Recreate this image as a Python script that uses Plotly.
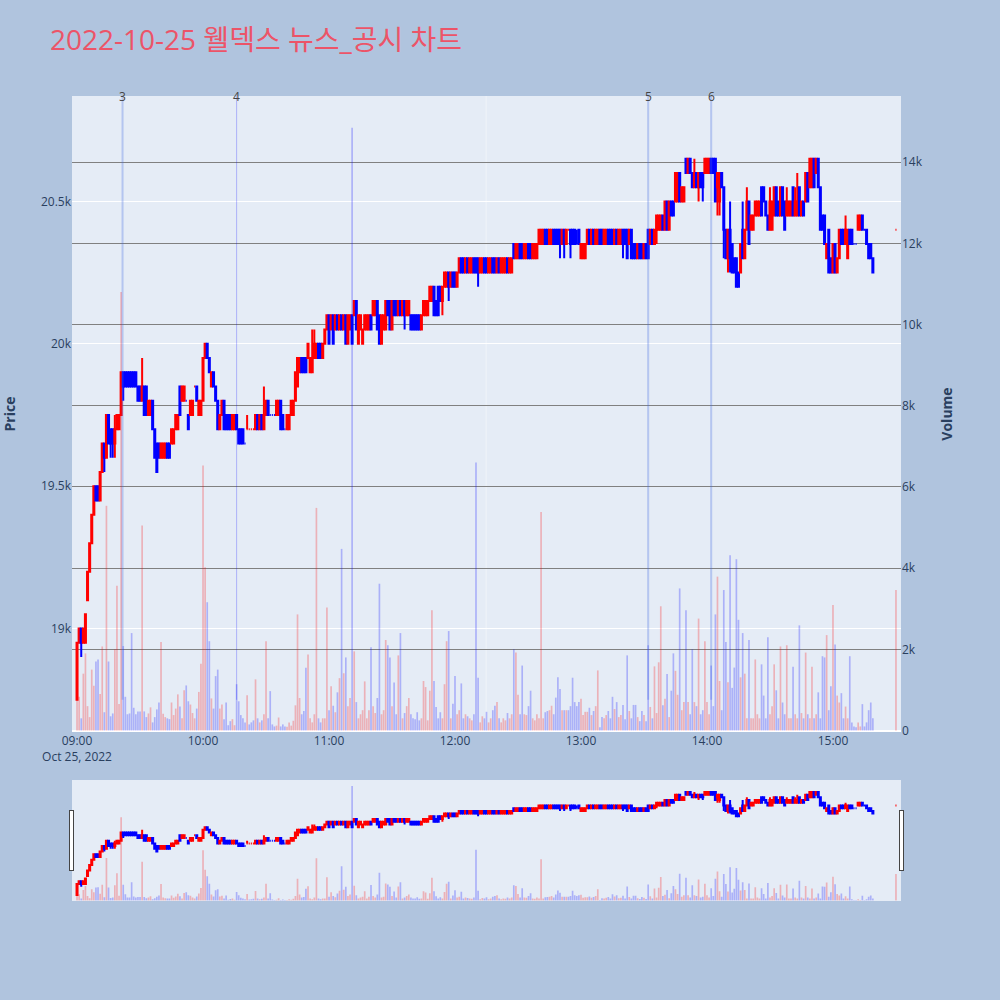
import plotly.graph_objects as go
from plotly.subplots import make_subplots
import pandas as pd

# ---------------- data (1-minute candles, 09:00-15:19 plus 15:30 close) ----------------
opens = [
    18750, 18950, 19000, 18950, 18950, 19100, 19200, 19300, 19400, 19500,
    19500, 19450, 19550, 19650, 19600, 19750, 19700, 19700, 19650, 19700,
    19700, 19750, 19900, 19900, 19900, 19900, 19900, 19900, 19900, 19850,
    19850, 19800, 19850, 19850, 19750, 19750, 19800, 19700, 19650, 19650,
    19600, 19600, 19600, 19650, 19650, 19650, 19650, 19700, 19700, 19850,
    19800, 19800, 19800, 19750, 19750, 19750, 19850, 19850, 19750, 19750,
    19800, 19950, 20000, 19950, 19850, 19900, 19850, 19800, 19700, 19750,
    19800, 19750, 19750, 19750, 19700, 19700, 19750, 19700, 19700, 19700,
    19650, 19700, 19700, 19700, 19700, 19700, 19750, 19700, 19750, 19700,
    19750, 19800, 19750, 19750, 19750, 19750, 19750, 19800, 19750, 19700,
    19700, 19700, 19750, 19750, 19800, 19850, 19900, 19950, 19950, 19950,
    19950, 19900, 19900, 19950, 19950, 20000, 20000, 19950, 20000, 20050,
    20100, 20050, 20100, 20050, 20100, 20050, 20100, 20050, 20100, 20000,
    20050, 20100, 20100, 20150, 20000, 20050, 20000, 20050, 20050, 20050,
    20100, 20100, 20100, 20150, 20100, 20000, 20050, 20050, 20150, 20150,
    20050, 20150, 20150, 20100, 20150, 20100, 20150, 20100, 20100, 20100,
    20100, 20100, 20100, 20100, 20050, 20100, 20100, 20100, 20150, 20150,
    20200, 20150, 20200, 20200, 20150, 20200, 20200, 20250, 20200, 20250,
    20250, 20200, 20250, 20300, 20300, 20250, 20300, 20250, 20250, 20300,
    20300, 20300, 20250, 20250, 20300, 20300, 20250, 20250, 20300, 20300,
    20250, 20300, 20250, 20250, 20250, 20300, 20250, 20250, 20350, 20300,
    20300, 20350, 20350, 20300, 20300, 20350, 20350, 20300, 20300, 20300,
    20350, 20350, 20350, 20400, 20400, 20350, 20350, 20400, 20400, 20400,
    20400, 20350, 20400, 20350, 20400, 20400, 20400, 20400, 20350, 20400,
    20300, 20300, 20300, 20350, 20400, 20350, 20400, 20350, 20350, 20400,
    20400, 20350, 20350, 20400, 20400, 20400, 20350, 20400, 20350, 20350,
    20400, 20400, 20400, 20350, 20400, 20350, 20350, 20300, 20350, 20350,
    20300, 20350, 20400, 20350, 20400, 20350, 20400, 20400, 20400, 20450,
    20400, 20500, 20400, 20500, 20500, 20500, 20500, 20600, 20500, 20500,
    20650, 20600, 20650, 20600, 20550, 20600, 20550, 20600, 20600, 20600,
    20600, 20600, 20650, 20650, 20650, 20550, 20500, 20600, 20550, 20400,
    20300, 20400, 20350, 20300, 20300, 20250, 20250, 20400, 20300, 20400,
    20500, 20400, 20400, 20450, 20450, 20450, 20550, 20550, 20500, 20450,
    20400, 20400, 20450, 20550, 20500, 20450, 20550, 20500, 20450, 20450,
    20450, 20550, 20450, 20450, 20550, 20450, 20500, 20500, 20600, 20550,
    20550, 20650, 20600, 20650, 20550, 20450, 20450, 20300, 20400, 20300,
    20250, 20350, 20250, 20300, 20400, 20400, 20350, 20300, 20400, 20400,
    20350, 20350, 20400, 20400, 20450, 20400, 20400, 20350, 20350, 20300,
    20400,
]
highs = [
    18950, 19000, 19000, 19000, 19050, 19200, 19300, 19400, 19500, 19500,
    19500, 19550, 19650, 19650, 19750, 19750, 19700, 19700, 19750, 19750,
    19750, 19900, 19900, 19900, 19900, 19900, 19900, 19900, 19900, 19850,
    19850, 19950, 19850, 19850, 19800, 19800, 19800, 19700, 19650, 19650,
    19650, 19650, 19650, 19650, 19650, 19700, 19700, 19750, 19750, 19850,
    19850, 19850, 19800, 19750, 19800, 19800, 19850, 19850, 19800, 19800,
    19950, 20000, 20000, 19950, 19900, 19900, 19850, 19800, 19750, 19800,
    19800, 19750, 19750, 19750, 19750, 19750, 19750, 19700, 19700, 19700,
    19650, 19750, 19700, 19700, 19700, 19750, 19750, 19750, 19750, 19850,
    19800, 19800, 19750, 19750, 19750, 19800, 19800, 19800, 19750, 19700,
    19750, 19750, 19800, 19800, 19900, 19950, 19950, 19950, 19950, 19950,
    20000, 19950, 20050, 20050, 20000, 20000, 20000, 20000, 20050, 20100,
    20100, 20100, 20100, 20100, 20100, 20100, 20100, 20100, 20100, 20100,
    20100, 20100, 20150, 20150, 20100, 20100, 20050, 20100, 20100, 20100,
    20100, 20150, 20150, 20150, 20100, 20100, 20100, 20150, 20150, 20150,
    20150, 20150, 20150, 20150, 20150, 20150, 20150, 20150, 20150, 20100,
    20100, 20100, 20100, 20100, 20100, 20150, 20150, 20150, 20200, 20200,
    20200, 20150, 20200, 20200, 20200, 20250, 20250, 20250, 20250, 20250,
    20250, 20250, 20300, 20300, 20300, 20300, 20300, 20300, 20300, 20300,
    20300, 20300, 20300, 20300, 20300, 20300, 20300, 20300, 20300, 20300,
    20300, 20300, 20300, 20300, 20300, 20300, 20300, 20300, 20350, 20350,
    20350, 20350, 20350, 20350, 20350, 20350, 20350, 20350, 20350, 20350,
    20400, 20400, 20400, 20400, 20400, 20400, 20400, 20400, 20400, 20400,
    20400, 20400, 20400, 20400, 20400, 20400, 20400, 20400, 20400, 20400,
    20350, 20350, 20350, 20400, 20400, 20400, 20400, 20400, 20400, 20400,
    20400, 20400, 20400, 20400, 20400, 20400, 20400, 20400, 20400, 20400,
    20400, 20400, 20400, 20400, 20400, 20350, 20350, 20350, 20350, 20350,
    20350, 20350, 20400, 20400, 20400, 20400, 20450, 20450, 20450, 20450,
    20500, 20500, 20500, 20500, 20500, 20600, 20600, 20600, 20550, 20550,
    20650, 20650, 20650, 20600, 20650, 20600, 20600, 20600, 20600, 20650,
    20650, 20650, 20650, 20650, 20650, 20600, 20600, 20600, 20550, 20400,
    20400, 20500, 20350, 20300, 20300, 20250, 20350, 20500, 20400, 20550,
    20500, 20450, 20450, 20500, 20500, 20500, 20550, 20550, 20500, 20450,
    20550, 20500, 20550, 20550, 20500, 20550, 20550, 20500, 20550, 20500,
    20500, 20550, 20550, 20600, 20550, 20500, 20500, 20600, 20600, 20650,
    20650, 20650, 20650, 20650, 20550, 20450, 20450, 20350, 20400, 20300,
    20350, 20350, 20300, 20400, 20400, 20400, 20450, 20400, 20400, 20400,
    20350, 20350, 20450, 20450, 20450, 20400, 20400, 20350, 20350, 20300,
    20400,
]
lows = [
    18750, 18950, 18900, 18950, 18950, 19100, 19200, 19300, 19400, 19450,
    19450, 19450, 19550, 19550, 19600, 19650, 19600, 19600, 19600, 19700,
    19700, 19750, 19800, 19850, 19850, 19850, 19850, 19850, 19850, 19800,
    19800, 19800, 19750, 19750, 19750, 19750, 19700, 19600, 19550, 19600,
    19600, 19600, 19600, 19600, 19600, 19650, 19650, 19700, 19700, 19750,
    19800, 19800, 19800, 19700, 19750, 19750, 19850, 19800, 19750, 19750,
    19800, 19950, 19950, 19900, 19850, 19850, 19800, 19700, 19700, 19750,
    19700, 19700, 19700, 19700, 19700, 19700, 19700, 19650, 19650, 19650,
    19650, 19700, 19700, 19700, 19700, 19700, 19700, 19700, 19700, 19700,
    19750, 19750, 19750, 19750, 19750, 19750, 19750, 19700, 19700, 19700,
    19700, 19700, 19750, 19750, 19800, 19850, 19900, 19900, 19900, 19900,
    19950, 19900, 19900, 19950, 19950, 19950, 19950, 19950, 20000, 20050,
    20000, 20050, 20000, 20050, 20050, 20050, 20050, 20050, 20000, 20000,
    20050, 20000, 20100, 20050, 20000, 20050, 20000, 20050, 20050, 20050,
    20050, 20100, 20100, 20050, 20000, 20000, 20050, 20050, 20100, 20050,
    20050, 20100, 20100, 20100, 20100, 20100, 20050, 20100, 20100, 20050,
    20050, 20050, 20050, 20050, 20050, 20100, 20100, 20100, 20150, 20150,
    20100, 20100, 20100, 20150, 20100, 20200, 20200, 20150, 20200, 20200,
    20200, 20200, 20250, 20250, 20250, 20250, 20250, 20250, 20250, 20250,
    20250, 20200, 20250, 20250, 20250, 20250, 20250, 20250, 20250, 20250,
    20250, 20250, 20250, 20250, 20250, 20250, 20250, 20250, 20300, 20300,
    20300, 20300, 20300, 20300, 20300, 20300, 20300, 20300, 20300, 20300,
    20350, 20350, 20350, 20350, 20350, 20350, 20350, 20350, 20350, 20350,
    20300, 20350, 20300, 20350, 20400, 20300, 20350, 20350, 20350, 20350,
    20300, 20300, 20300, 20350, 20350, 20350, 20350, 20350, 20350, 20350,
    20350, 20350, 20350, 20350, 20350, 20350, 20350, 20350, 20350, 20350,
    20300, 20350, 20300, 20350, 20300, 20300, 20300, 20300, 20300, 20300,
    20300, 20300, 20300, 20350, 20350, 20350, 20350, 20400, 20400, 20400,
    20400, 20400, 20400, 20450, 20450, 20500, 20500, 20500, 20500, 20500,
    20600, 20600, 20600, 20550, 20550, 20550, 20500, 20550, 20500, 20600,
    20600, 20600, 20600, 20600, 20500, 20450, 20450, 20550, 20300, 20300,
    20250, 20250, 20250, 20250, 20200, 20200, 20250, 20300, 20300, 20400,
    20350, 20400, 20400, 20450, 20450, 20450, 20450, 20500, 20450, 20400,
    20400, 20400, 20450, 20450, 20450, 20450, 20450, 20400, 20450, 20450,
    20450, 20450, 20450, 20450, 20450, 20450, 20450, 20500, 20500, 20550,
    20550, 20550, 20600, 20550, 20400, 20400, 20350, 20300, 20250, 20250,
    20250, 20250, 20250, 20300, 20350, 20350, 20350, 20300, 20350, 20350,
    20350, 20350, 20400, 20400, 20400, 20400, 20350, 20300, 20300, 20250,
    20400,
]
closes = [
    18950, 19000, 18950, 19000, 19050, 19200, 19300, 19400, 19500, 19450,
    19450, 19550, 19650, 19600, 19750, 19650, 19650, 19650, 19700, 19750,
    19750, 19900, 19850, 19850, 19850, 19850, 19850, 19850, 19850, 19800,
    19800, 19850, 19750, 19750, 19800, 19800, 19700, 19600, 19550, 19600,
    19650, 19650, 19650, 19600, 19600, 19700, 19700, 19750, 19750, 19750,
    19850, 19850, 19800, 19700, 19800, 19800, 19850, 19800, 19800, 19800,
    19950, 20000, 19950, 19900, 19900, 19850, 19800, 19700, 19750, 19800,
    19700, 19700, 19700, 19700, 19750, 19750, 19700, 19650, 19650, 19650,
    19650, 19700, 19700, 19700, 19700, 19750, 19700, 19750, 19700, 19750,
    19800, 19750, 19750, 19750, 19750, 19800, 19800, 19700, 19700, 19700,
    19750, 19750, 19800, 19800, 19900, 19950, 19950, 19900, 19900, 19900,
    20000, 19950, 19950, 20000, 20000, 19950, 19950, 20000, 20050, 20100,
    20000, 20100, 20000, 20100, 20050, 20100, 20050, 20100, 20000, 20100,
    20100, 20000, 20150, 20050, 20100, 20100, 20050, 20100, 20100, 20100,
    20050, 20150, 20150, 20050, 20000, 20100, 20100, 20150, 20100, 20050,
    20150, 20100, 20100, 20150, 20100, 20150, 20100, 20150, 20150, 20050,
    20050, 20050, 20050, 20050, 20100, 20150, 20150, 20150, 20200, 20200,
    20100, 20100, 20100, 20150, 20200, 20250, 20250, 20200, 20250, 20200,
    20200, 20250, 20300, 20250, 20250, 20300, 20250, 20300, 20300, 20250,
    20250, 20250, 20300, 20300, 20250, 20250, 20300, 20300, 20250, 20250,
    20300, 20250, 20300, 20300, 20300, 20250, 20300, 20300, 20300, 20350,
    20350, 20300, 20300, 20350, 20350, 20300, 20300, 20350, 20350, 20350,
    20400, 20400, 20400, 20350, 20350, 20400, 20400, 20350, 20350, 20350,
    20350, 20400, 20350, 20400, 20400, 20350, 20350, 20350, 20350, 20350,
    20350, 20350, 20350, 20400, 20350, 20400, 20350, 20400, 20400, 20350,
    20350, 20400, 20400, 20350, 20350, 20350, 20400, 20350, 20400, 20400,
    20350, 20350, 20300, 20400, 20300, 20300, 20300, 20350, 20300, 20300,
    20350, 20300, 20300, 20400, 20350, 20400, 20450, 20450, 20450, 20400,
    20500, 20400, 20500, 20450, 20450, 20600, 20600, 20500, 20550, 20550,
    20600, 20650, 20600, 20550, 20600, 20550, 20600, 20550, 20550, 20650,
    20650, 20650, 20600, 20600, 20500, 20600, 20600, 20550, 20400, 20300,
    20400, 20300, 20250, 20250, 20200, 20200, 20350, 20300, 20400, 20500,
    20350, 20450, 20450, 20500, 20500, 20500, 20450, 20500, 20450, 20400,
    20500, 20500, 20550, 20450, 20450, 20550, 20450, 20400, 20500, 20500,
    20500, 20450, 20500, 20500, 20450, 20500, 20450, 20600, 20500, 20650,
    20650, 20550, 20650, 20550, 20400, 20400, 20350, 20350, 20250, 20250,
    20350, 20250, 20300, 20400, 20350, 20350, 20400, 20400, 20350, 20350,
    20350, 20350, 20450, 20450, 20400, 20400, 20350, 20300, 20300, 20250,
    20400,
]
volumes = [
    800, 830, 300, 1400, 1900, 600, 330, 1500, 1100, 1700,
    1750, 900, 2070, 450, 5535, 1700, 350, 420, 2000, 3565,
    650, 10800, 2080, 830, 400, 420, 2400, 560, 400, 470,
    470, 5050, 470, 330, 420, 570, 200, 330, 520, 690,
    2180, 410, 330, 300, 280, 690, 380, 540, 890, 590,
    300, 990, 1110, 720, 640, 430, 300, 540, 950, 1645,
    6525, 4020, 3160, 2200, 790, 540, 1340, 1500, 540, 640,
    280, 690, 130, 230, 280, 130, 1140, 720, 380, 300,
    200, 870, 150, 200, 250, 1260, 300, 200, 250, 400,
    2200, 300, 970, 150, 100, 120, 320, 100, 150, 100,
    90, 200, 120, 240, 620, 2860, 800, 400, 480, 1545,
    1870, 300, 200, 400, 5484, 300, 200, 300, 300, 3030,
    500, 1090, 610, 450, 940, 1290, 4474, 1410, 1800, 600,
    800, 14850, 1950, 700, 300, 400, 500, 1210, 300, 500,
    2050, 600, 430, 800, 3616, 400, 500, 2230, 2100, 1800,
    600, 1180, 400, 1850, 2400, 300, 430, 600, 800, 400,
    300, 280, 450, 250, 300, 1220, 1070, 250, 980, 2960,
    1220, 580, 300, 450, 300, 1140, 2200, 2450, 300, 660,
    1340, 400, 500, 1160, 300, 400, 350, 300, 250, 400,
    6600, 1300, 200, 350, 300, 460, 200, 300, 500, 610,
    700, 300, 200, 300, 250, 430, 300, 400, 2000, 1920,
    880, 400, 1600, 400, 380, 600, 980, 300, 250, 400,
    300, 5380, 300, 450, 480, 500, 610, 400, 810, 1310,
    1020, 500, 500, 500, 500, 600, 1300, 700, 600, 700,
    780, 380, 460, 460, 560, 380, 480, 600, 1480, 80,
    330, 300, 380, 480, 300, 830, 530, 700, 330, 380,
    630, 280, 1850, 480, 300, 630, 630, 330, 230, 480,
    380, 230, 2100, 580, 300, 1580, 430, 1680, 3060, 620,
    780, 1390, 330, 980, 1900, 1470, 880, 3500, 500, 700,
    2960, 700, 400, 2000, 700, 600, 2757, 400, 500, 2200,
    700, 400, 1600, 600, 2860, 3790, 1220, 500, 3460, 2180,
    1190, 4320, 1050, 1550, 4220, 2727, 1310, 2400, 1400, 300,
    2230, 300, 300, 1750, 400, 300, 1630, 860, 300, 2300,
    400, 600, 1630, 990, 300, 2070, 690, 400, 2100, 300,
    300, 1570, 400, 300, 2590, 430, 300, 1920, 400, 300,
    1570, 300, 400, 940, 300, 1830, 1800, 2350, 500, 1090,
    3090, 2120, 860, 690, 920, 300, 590, 300, 1830, 200,
    100, 80, 200, 100, 650, 100, 200, 500, 690, 300,
    3460,
]
times = list(pd.date_range("2022-10-25 09:00", periods=380, freq="min")) + [pd.Timestamp("2022-10-25 15:30")]

news_labels = ["3", "4", "5", "6"]
news_times = ["2022-10-25 09:21:40", "2022-10-25 10:16:00", "2022-10-25 13:32:00", "2022-10-25 14:02:00"]
news_colors = ["rgba(65,105,225,0.3)", "rgba(0,0,255,0.25)", "rgba(65,105,225,0.3)", "rgba(65,105,225,0.3)"]
news_widths = [2, 1, 2, 2]
faint_time = "2022-10-25 12:14:50"

n = len(times)
for name, arr in [("opens", opens), ("highs", highs), ("lows", lows), ("closes", closes), ("volumes", volumes)]:
    assert len(arr) == n, f"{name} has {len(arr)} entries, expected {n}"

# volume colours follow the candle direction
vol_colors = []
prev_c = None
for o, c in zip(opens, closes):
    up = c > o or (c == o and prev_c is not None and c > prev_c)
    vol_colors.append("rgba(255,0,0,0.25)" if up else "rgba(0,0,255,0.25)")
    prev_c = c

fig = make_subplots(specs=[[{"secondary_y": True}]])
fig.add_trace(go.Candlestick(
    x=times, open=opens, high=highs, low=lows, close=closes,
    increasing=dict(line=dict(color="red"), fillcolor="red"),
    decreasing=dict(line=dict(color="blue"), fillcolor="blue"),
    name="Price", showlegend=False,
), secondary_y=False)
fig.add_trace(go.Bar(
    x=times, y=volumes, marker=dict(color=vol_colors, line=dict(width=0)),
    name="Volume", showlegend=False,
), secondary_y=True)

y_lo, y_hi = 18637, 20870
fig.add_shape(type="line", xref="x", yref="paper", x0=faint_time, x1=faint_time, y0=0, y1=1,
              line=dict(color="rgba(255,255,255,0.45)", width=1), layer="below")
for t, lab, col, w in zip(news_times, news_labels, news_colors, news_widths):
    fig.add_shape(type="line", xref="x", yref="y", x0=t, x1=t, y0=min(lows), y1=y_hi,
                  line=dict(color=col, width=w), layer="above")
    fig.add_annotation(x=t, xref="x", y=1, yref="paper", text=lab, showarrow=False,
                       yanchor="middle", font=dict(size=12, color="#444"))

x_range = ["2022-10-25 08:57:36", "2022-10-25 15:32:24"]
fig.update_layout(
    width=1000, height=1000,
    paper_bgcolor="#B0C4DE",
    plot_bgcolor="#E5ECF6",
    margin=dict(l=72, r=99, t=96, b=100),
    title=dict(text="2022-10-25 웰덱스 뉴스_공시 차트", x=0.05, y=0.96, yanchor="middle",
               font=dict(size=28, color="#EC5468", family="Open Sans, Noto Sans CJK KR")),
    bargap=0.2,
    showlegend=False,
)
fig.update_xaxes(range=x_range, showgrid=False, domain=[0, 1],
                 rangeslider=dict(visible=True, range=x_range, thickness=0.15, bgcolor="#E5ECF6"))
fig.update_yaxes(title=dict(text="<b>Price</b>", standoff=22), range=[y_lo, y_hi],
                 gridcolor="white", automargin=False, secondary_y=False)
fig.update_yaxes(title=dict(text="<b>Volume</b>", standoff=20), range=[-37, 15630],
                 gridcolor="gray", showgrid=True, automargin=False,
                 zerolinecolor="white", secondary_y=True)

fig.write_html("out.html", post_script="document.body.style.margin='0';",
               config={"displayModeBar": False})
